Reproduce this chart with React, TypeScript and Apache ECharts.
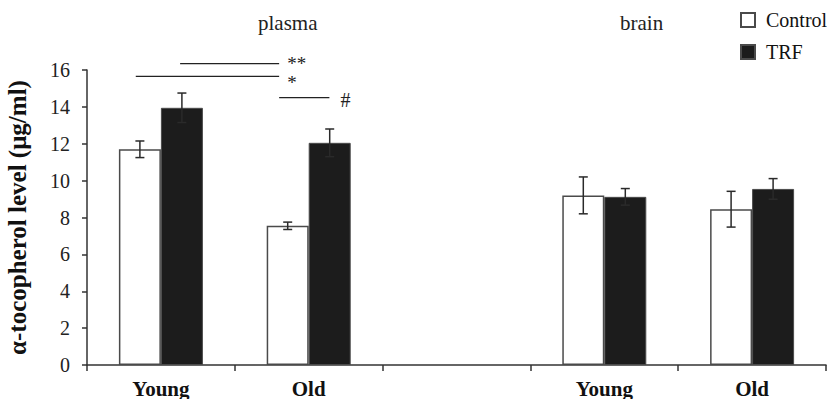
import React, { useEffect, useRef } from "react";
import * as echarts from "echarts";

const categories = ["Young", "Old", "", "Young", "Old"];
const controlValues: (number | string)[] = [11.7, 7.55, "-", 9.2, 8.45];
const trfValues: (number | string)[] = [13.95, 12.05, "-", 9.12, 9.55];
const controlErr = [0.45, 0.2, 0, 1.0, 0.97];
const trfErr = [0.8, 0.75, 0, 0.45, 0.56];
const yTicks = { min: 0, max: 16, interval: 2 };

// significance annotations: level (value), start/end in category units
const sigLabels = ["**", "*", "#"];
const sigLevels = [16.35, 15.65, 14.5];
const sigStart = [0.13, -0.17, 0.8];
const sigEnd = [0.8, 0.8, 1.14];

const SERIF = '"Liberation Serif", "Times New Roman", serif';
const BAR_W = 42;

function errorSeries(name: string, vals: (number | string)[], errs: number[], side: number) {
  const data: number[][] = [];
  vals.forEach((v, i) => {
    if (typeof v === "number") data.push([i, v, errs[i]]);
  });
  return {
    name: name + " err",
    type: "custom",
    data,
    z: 5,
    encode: { x: 0, y: 1 },
    renderItem: (params: any, api: any) => {
      const idx = api.value(0);
      const v = api.value(1);
      const e = api.value(2);
      const base = api.coord([idx, v]);
      const x = base[0] + side * (BAR_W / 2);
      const top = api.coord([idx, v + e])[1];
      const bot = api.coord([idx, v - e])[1];
      const cap = 4.5;
      const style = { stroke: "#2a2a2a", lineWidth: 1.5 };
      return {
        type: "group",
        children: [
          { type: "line", shape: { x1: x, y1: top, x2: x, y2: bot }, style },
          { type: "line", shape: { x1: x - cap, y1: top, x2: x + cap, y2: top }, style },
          { type: "line", shape: { x1: x - cap, y1: bot, x2: x + cap, y2: bot }, style },
        ],
      };
    },
  };
}

export default function App() {
  const ref = useRef<HTMLDivElement>(null);
  useEffect(() => {
    if (!ref.current) return;
    const chart = echarts.init(ref.current, null, { renderer: "svg" });
    chart.setOption({
      animation: false,
      backgroundColor: "#ffffff",
      grid: {
        left: 87,
        right: 1,
        top: 70,
        bottom: 34,
        containLabel: false,
        outerBoundsMode: "none",
      },
      legend: {
        data: ["Control", "TRF"],
        orient: "vertical",
        left: 735,
        top: 5,
        icon: "rect",
        itemWidth: 14,
        itemHeight: 14,
        itemGap: 12,
        textStyle: {
          fontFamily: SERIF,
          fontSize: 20,
          color: "#111",
          lineHeight: 20,
          padding: [0, 0, 0, 6],
        },
      },
      xAxis: {
        type: "category",
        data: categories,
        axisLine: { lineStyle: { color: "#333", width: 1.5 } },
        axisTick: { show: true, length: 6, lineStyle: { color: "#333", width: 1.5 } },
        axisLabel: {
          fontFamily: SERIF,
          fontSize: 21,
          fontWeight: "bold",
          color: "#111",
          margin: 13,
        },
      },
      yAxis: {
        type: "value",
        min: yTicks.min,
        max: yTicks.max,
        interval: yTicks.interval,
        name: "α-tocopherol level (μg/ml)",
        nameLocation: "middle",
        nameGap: 57,
        nameTextStyle: {
          fontFamily: SERIF,
          fontSize: 25,
          fontWeight: "bold",
          color: "#111",
        },
        splitLine: { show: false },
        axisLine: { show: true, lineStyle: { color: "#333", width: 1.5 } },
        axisTick: { show: true, length: 5, lineStyle: { color: "#333", width: 1.5 } },
        axisLabel: { fontFamily: SERIF, fontSize: 20, color: "#222", margin: 17 },
      },
      series: [
        {
          name: "Control",
          type: "bar",
          data: controlValues,
          barWidth: BAR_W,
          barGap: "0%",
          itemStyle: { color: "#ffffff", borderColor: "#4a4a4a", borderWidth: 1.5 },
        },
        {
          name: "TRF",
          type: "bar",
          data: trfValues,
          barWidth: BAR_W,
          barGap: "0%",
          itemStyle: { color: "#1c1c1c", borderColor: "#4a4a4a", borderWidth: 1 },
        },
        errorSeries("Control", controlValues, controlErr, -1),
        errorSeries("TRF", trfValues, trfErr, 1),
        {
          name: "significance",
          type: "custom",
          data: sigLevels.map((lv) => [0, lv]),
          encode: { x: 0, y: 1 },
          z: 6,
          clip: false,
          renderItem: (params: any, api: any) => {
            const i = params.dataIndex;
            const lv = api.value(1);
            const p0 = api.coord([0, lv]);
            const band = api.size([1, 0])[0];
            const x1 = p0[0] + sigStart[i] * band;
            const x2 = p0[0] + sigEnd[i] * band;
            const y = p0[1];
            const isHash = sigLabels[i] === "#";
            const dy = isHash ? 2 : i === 0 ? 0 : 6;
            return {
              type: "group",
              children: [
                {
                  type: "line",
                  shape: { x1, y1: y, x2, y2: y },
                  style: { stroke: "#222", lineWidth: 1.3 },
                },
                {
                  type: "text",
                  x: x2 + (isHash ? 11 : 8),
                  y: y + dy,
                  style: {
                    text: sigLabels[i],
                    fontFamily: SERIF,
                    fontSize: isHash ? 20 : 19,
                    lineHeight: isHash ? 20 : 12,
                    fill: "#222",
                    verticalAlign: "middle",
                    align: "left",
                  },
                },
              ],
            };
          },
        },
      ],
      graphic: [
        {
          type: "text",
          left: 258,
          top: 12,
          style: { text: "plasma", fontFamily: SERIF, fontSize: 21, fill: "#222" },
        },
        {
          type: "text",
          left: 620,
          top: 12,
          style: { text: "brain", fontFamily: SERIF, fontSize: 21, fill: "#222" },
        },
      ],
    });
    return () => chart.dispose();
  }, []);
  return (
    <div
      ref={ref}
      style={{ position: "absolute", left: 0, top: 0, width: 827, height: 399 }}
    />
  );
}
